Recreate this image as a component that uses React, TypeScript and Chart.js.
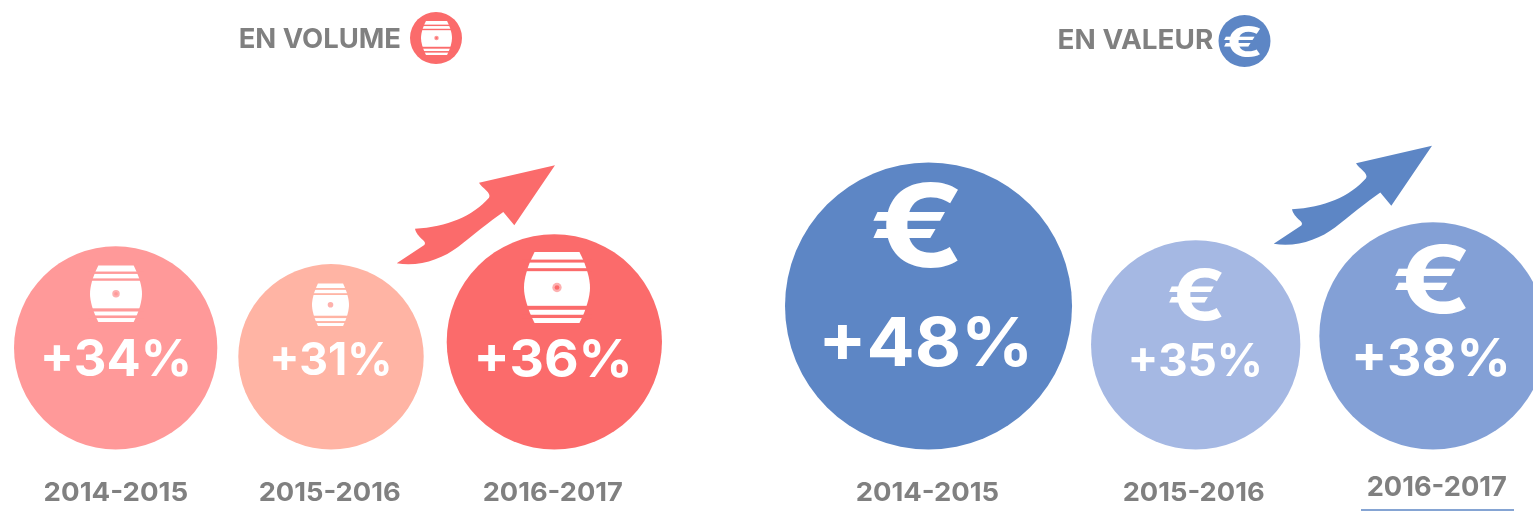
import React, { useEffect, useRef } from "react";
import { Chart, registerables } from "chart.js";

Chart.register(...registerables);

const periods = ["2014-2015", "2015-2016", "2016-2017"];
const volumeGrowth = [34, 31, 36];
const valueGrowth = [48, 35, 38];

const volumeColors = ["#ff9999", "#ffb4a4", "#fb6b6b"];
const valueColors = ["#5d86c5", "#a5b8e3", "#83a0d6"];

const GREY = "#808080";
const R_PER_POINT = 2.99;
const BASELINE = 449.5;
const VOLUME_GAPS = [14, 21, 23];
const VALUE_GAPS = [785, 19, 19];

type Box = [number, number, number, number];

const LAYOUT = {
  pct: [
    [43.5, 339, 187.5, 377],
    [272.5, 342, 388.5, 376],
    [477.5, 339, 628, 378],
    [823.5, 317, 1027, 368],
    [1131, 343, 1259, 377],
    [1355, 338, 1506, 377],
  ] as Box[],
  year: [
    [45, 482, 187, 501],
    [260, 482, 400, 501],
    [484, 482, 622, 501],
    [857, 482, 998, 501],
    [1124, 482, 1264, 501],
    [1368, 476, 1506, 496],
  ] as Box[],
  barrel: [
    [90, 265.5, 142, 322],
    [312, 283.5, 349, 326],
    [524, 252, 590, 323],
  ] as Box[],
  euro: [
    [873, 182, 959, 268],
    [1169, 268, 1222.5, 321],
    [1395, 244, 1467, 314],
  ] as Box[],
};

function packed(values: number[], gaps: number[]) {
  let edge = 0;
  return values.map((v, i) => {
    const r = v * R_PER_POINT;
    const x = edge + gaps[i] + r;
    edge = x + r;
    return { x, y: BASELINE - r, r };
  });
}

function fitText(ctx: CanvasRenderingContext2D, text: string, font: string, color: string, box: Box) {
  const [l, t, r, b] = box;
  ctx.save();
  ctx.font = font;
  ctx.textAlign = "left";
  ctx.textBaseline = "alphabetic";
  const m = ctx.measureText(text);
  const w = m.actualBoundingBoxLeft + m.actualBoundingBoxRight;
  const h = m.actualBoundingBoxAscent + m.actualBoundingBoxDescent;
  ctx.translate(l, t);
  ctx.scale((r - l) / w, (b - t) / h);
  ctx.fillStyle = color;
  ctx.fillText(text, m.actualBoundingBoxLeft, m.actualBoundingBoxAscent);
  ctx.restore();
}

function drawBarrel(ctx: CanvasRenderingContext2D, box: Box, color: string, dot: string) {
  const [l, t, r, b] = box;
  const w = r - l;
  const h = b - t;
  const X = (u: number) => l + u * w;
  const Y = (v: number) => t + v * h;
  ctx.save();
  ctx.fillStyle = "#ffffff";
  ctx.beginPath();
  ctx.moveTo(X(0.16), Y(0));
  ctx.lineTo(X(0.84), Y(0));
  ctx.bezierCurveTo(X(0.95), Y(0.2), X(1), Y(0.38), X(1), Y(0.5));
  ctx.bezierCurveTo(X(1), Y(0.62), X(0.95), Y(0.8), X(0.84), Y(1));
  ctx.lineTo(X(0.16), Y(1));
  ctx.bezierCurveTo(X(0.05), Y(0.8), X(0), Y(0.62), X(0), Y(0.5));
  ctx.bezierCurveTo(X(0), Y(0.38), X(0.05), Y(0.2), X(0.16), Y(0));
  ctx.fill();
  ctx.fillStyle = color;
  const bands = [
    [0.107, 0.149],
    [0.228, 0.27],
    [0.758, 0.814],
    [0.884, 0.93],
  ];
  for (const [a, c] of bands) ctx.fillRect(l - 2, Y(a), w + 4, Y(c) - Y(a));
  ctx.fillStyle = dot;
  ctx.beginPath();
  ctx.arc(X(0.5), Y(0.5), h * 0.066, 0, Math.PI * 2);
  ctx.fill();
  ctx.fillStyle = color;
  ctx.beginPath();
  ctx.arc(X(0.5), Y(0.5), h * 0.033, 0, Math.PI * 2);
  ctx.fill();
  ctx.restore();
}

function drawArrow(ctx: CanvasRenderingContext2D, dx: number, dy: number, color: string) {
  const P = (x: number, y: number): [number, number] => [x + dx, y + dy];
  ctx.save();
  ctx.fillStyle = color;
  ctx.beginPath();
  ctx.moveTo(...P(555, 165.3));
  ctx.lineTo(...P(479, 182.7));
  ctx.bezierCurveTo(...P(482, 188), ...P(492, 193), ...P(489, 197.7));
  ctx.bezierCurveTo(...P(473, 216), ...P(447, 227), ...P(415, 228.7));
  ctx.bezierCurveTo(...P(417, 238), ...P(428, 241), ...P(424.3, 245));
  ctx.lineTo(...P(396.7, 263.3));
  ctx.bezierCurveTo(...P(420, 267), ...P(442, 259), ...P(458, 247));
  ctx.bezierCurveTo(...P(472, 236), ...P(490, 221), ...P(503.3, 212));
  ctx.lineTo(...P(514.3, 225.3));
  ctx.closePath();
  ctx.fill();
  ctx.restore();
}

function drawHeaderDisc(ctx: CanvasRenderingContext2D, x: number, y: number, r: number, color: string) {
  ctx.save();
  ctx.fillStyle = color;
  ctx.beginPath();
  ctx.arc(x, y, r, 0, Math.PI * 2);
  ctx.fill();
  ctx.restore();
}

const FONT = "700 40px Inter";
const EURO_FONT = "700 80px Inter";

const decorations = {
  id: "decorations",
  afterDatasetsDraw(chart: Chart) {
    const ctx = chart.ctx;
    drawArrow(ctx, 0, 0, "#fb6b6b");
    drawArrow(ctx, 877, -19.5, "#5d86c5");

    fitText(ctx, "EN VOLUME", FONT, GREY, [240, 27.5, 400, 47.5]);
    drawHeaderDisc(ctx, 436, 38, 26, "#fb6b6b");
    drawBarrel(ctx, [421, 21, 452, 55], "#fb6b6b", "#fd9a9a");
    fitText(ctx, "EN VALEUR", FONT, GREY, [1059, 29, 1213, 48.5]);
    drawHeaderDisc(ctx, 1244.5, 41, 26, "#5d86c5");
    fitText(ctx, "€", EURO_FONT, "#ffffff", [1224, 26, 1260.5, 58]);

    const all = [...volumeGrowth, ...valueGrowth];
    const colors = [...volumeColors, ...valueColors];
    all.forEach((v, i) => {
      fitText(ctx, `+${v}%`, FONT, "#ffffff", LAYOUT.pct[i]);
      fitText(ctx, periods[i % 3], FONT, GREY, LAYOUT.year[i]);
      if (i < 3) drawBarrel(ctx, LAYOUT.barrel[i], colors[i], "#fdb0b0");
      else fitText(ctx, "€", EURO_FONT, "#ffffff", LAYOUT.euro[i - 3]);
    });

    ctx.save();
    ctx.strokeStyle = "#5d86c5";
    ctx.lineWidth = 1.5;
    ctx.beginPath();
    ctx.moveTo(1361, 510);
    ctx.lineTo(1514, 510);
    ctx.stroke();
    ctx.restore();
  },
};

export default function App() {
  const ref = useRef<HTMLCanvasElement>(null);
  useEffect(() => {
    const chart = new Chart(ref.current!, {
      type: "bubble",
      data: {
        datasets: [
          {
            label: "En volume",
            data: packed(volumeGrowth, VOLUME_GAPS),
            backgroundColor: volumeColors,
            borderWidth: 0,
            clip: false,
          },
          {
            label: "En valeur",
            data: packed(valueGrowth, VALUE_GAPS),
            backgroundColor: valueColors,
            borderWidth: 0,
            clip: false,
          },
        ],
      },
      options: {
        animation: false,
        responsive: false,
        events: [],
        layout: { padding: 0, autoPadding: false },
        plugins: { legend: { display: false }, tooltip: { enabled: false } },
        scales: {
          x: { type: "linear", display: false, min: 0, max: 1533 },
          y: { type: "linear", display: false, min: 0, max: 511, reverse: true },
        },
      },
      plugins: [decorations],
    } as any);
    return () => chart.destroy();
  }, []);
  return (
    <div style={{ position: "absolute", left: 0, top: 0, width: 1533, height: 511, background: "#fff" }}>
      <canvas ref={ref} width={1533} height={511} style={{ display: "block" }} />
    </div>
  );
}
